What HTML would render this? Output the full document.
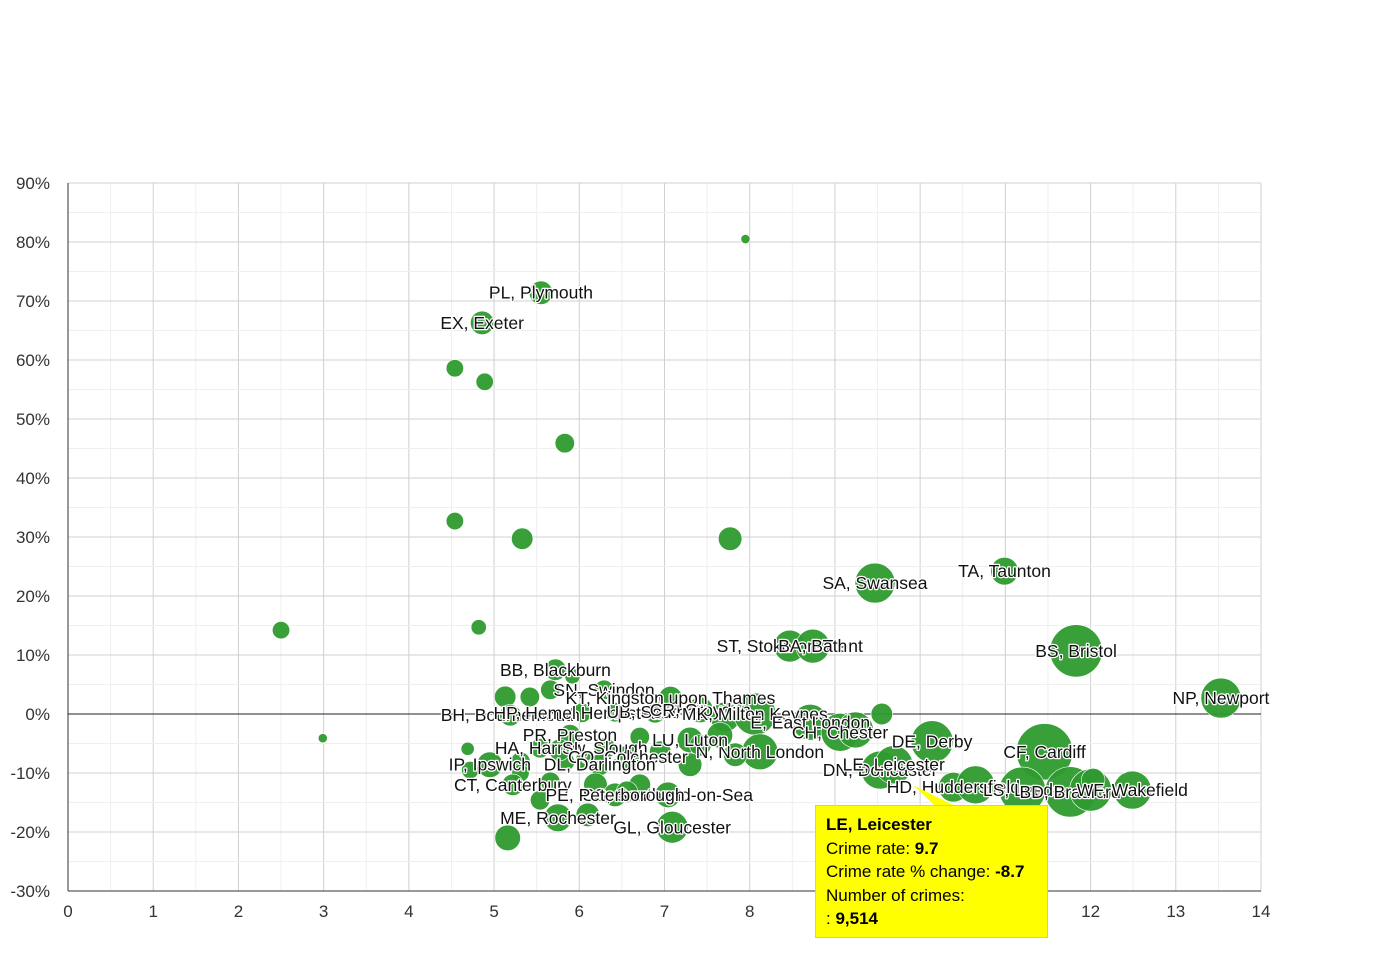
<!DOCTYPE html>
<html><head><meta charset="utf-8"><style>
body{margin:0;background:#fff;font-family:"Liberation Sans",sans-serif}
#tip{position:absolute;left:815px;top:805px;width:233px;height:133px;background:#ffff00;border:1px solid #e0e000;box-sizing:border-box;padding:7px 10px;font-size:17px;line-height:23.5px;color:#000}
</style></head><body>
<svg id="chart" width="1390" height="980" style="position:absolute;left:0;top:0"></svg>
<div id="tip"><b>LE, Leicester</b><br>Crime rate: <b>9.7</b><br>Crime rate % change: <b>-8.7</b><br>Number of crimes:<br>: <b>9,514</b></div>
<script>
const names=["","PL, Plymouth","EX, Exeter","","","","","","","SA, Swansea","TA, Taunton","","","ST, Stoke-on-Trent","BA, Bath","BS, Bristol","NP, Newport","","","CF, Cardiff",
"BB, Blackburn","","SN, Swindon","","","","BH, Bournemouth","HP, Hemel Hempstead","","UB, Southall","KT, Kingston upon Thames","CR, Croydon","","MK, Milton Keynes","E, East London","CH, Chester","","","DE, Derby","N, North London","LU, Luton","","PR, Preston","HA, Harrow","SL, Slough","CO, Colchester","","","","IP, Ipswich","","","DL, Darlington","","","","CT, Canterbury","","","SS, Southend-on-Sea","PE, Peterborough","","ME, Rochester","","GL, Gloucester","","","","","","","DN, Doncaster","LE, Leicester","HD, Huddersfield","","LS, Leeds","BD, Bradford","","","WF, Wakefield"];
const rates=[7.95,5.55,4.86,4.54,4.89,5.83,4.54,5.33,7.77,9.47,10.99,2.5,4.82,8.47,8.74,11.83,13.53,2.99,4.69,11.46,
5.72,5.92,6.29,5.66,5.42,5.13,5.19,6.03,6.42,6.89,7.07,7.42,7.71,8.06,8.71,9.06,9.24,9.55,10.14,8.12,7.30,6.71,5.89,5.54,6.30,6.57,6.95,7.42,5.31,4.95,4.72,6.07,6.24,5.83,5.31,5.66,5.22,6.19,6.71,7.04,6.42,6.56,5.75,6.10,7.09,5.16,5.54,5.77,7.30,7.65,7.83,9.53,9.69,10.39,10.65,11.20,11.76,12.00,12.03,12.49];
const changes=[80.5,71.4,66.3,58.6,56.3,45.9,32.7,29.7,29.7,22.2,24.2,14.2,14.7,11.5,11.5,10.7,2.7,-4.1,-5.9,-6.4,
7.5,6.4,4.1,4.1,2.9,2.9,-0.2,0.2,0.3,0.3,2.7,0.7,-0.5,0,-1.4,-3.1,-2.7,0,-4.7,-6.4,-4.4,-3.9,-3.6,-5.8,-5.8,-7.3,-6.4,-5.3,-8.1,-8.6,-9.5,-7.8,-8.6,-8.1,-10,-11.5,-12,-12,-12,-13.7,-13.7,-13.2,-17.6,-17.1,-19.2,-21,-14.6,-6.1,-8.6,-3.6,-6.9,-9.5,-8.6,-12.4,-12,-12.9,-13.2,-12.9,-11.2,-12.9];
const crimes=[467,3530,3530,1870,1870,2365,1870,2920,3530,10540,4930,1870,1430,6570,7470,18250,10540,467,1050,21290,
2920,1430,2365,2365,2365,2920,2920,2365,2365,2920,3530,4200,5720,11680,8440,9460,8440,2920,11680,8440,4200,2365,2920,2365,2920,3530,2920,2920,2365,4200,1870,2365,2920,2365,1870,2365,2920,3530,2920,4200,3530,2920,4930,3530,6570,4200,2365,2920,3530,4200,3530,9460,9514,5720,9460,14130,16820,11680,3530,9460];
const xTicks=[0,1,2,3,4,5,6,7,8,9,10,11,12,13,14];
const yTicks=[90,80,70,60,50,40,30,20,10,0,-10,-20,-30];
const L=68,R=1261,T=183,B=891;
const sx=v=>L+(v-0)/14*(R-L), sy=v=>T+(90-v)/120*(B-T), rad=c=>0.19*Math.sqrt(c)+0.5;
const svg=document.getElementById('chart'),NS='http://www.w3.org/2000/svg';
function mk(t,a,p){const e=document.createElementNS(NS,t);for(const k in a)e.setAttribute(k,a[k]);(p||svg).appendChild(e);return e;}
for(let v=0;v<=14;v+=0.5){const l=mk('line',{x1:sx(v),x2:sx(v),y1:T,y2:B,stroke:v%1?'#efefef':'#d0d0d0'});

}
for(let v=-30;v<=90;v+=5){const l=mk('line',{x1:L,x2:R,y1:sy(v),y2:sy(v),stroke:v%10?'#efefef':'#d0d0d0'});

}
const z=mk('line',{x1:L,x2:R,y1:sy(0),y2:sy(0),stroke:'#222'});


const ax=mk('line',{x1:L,x2:L,y1:T,y2:B,stroke:'#333'});


const bx=mk('line',{x1:L,x2:R,y1:B,y2:B,stroke:'#333'});


xTicks.forEach(v=>{const t=mk('text',{x:sx(v),y:B+26,'text-anchor':'middle','font-size':17,fill:'#333'});t.textContent=v;

});
yTicks.forEach(v=>{const t=mk('text',{x:L-18,y:sy(v)+6,'text-anchor':'end','font-size':17,fill:'#333'});t.textContent=v+'%';

});
const gB=mk('g',{}),gL=mk('g',{});
rates.forEach((r,i)=>{const c=mk('circle',{cx:sx(r),cy:sy(changes[i]),r:rad(crimes[i]),fill:'#2e9a2e',stroke:'#fff','stroke-width':0.6,'fill-opacity':0.95},gB);


if(names[i]){const t=mk('text',{x:sx(r),y:sy(changes[i])+6,'text-anchor':'middle','font-size':17.5,fill:'#111',stroke:'#fff','stroke-width':2.5,'paint-order':'stroke','stroke-linejoin':'round'},gL);t.textContent=names[i];

}});
const p=mk('path',{d:'M913 785 L935 806 L955 806 Z',fill:'#ffff00'});


</script>
</body></html>
